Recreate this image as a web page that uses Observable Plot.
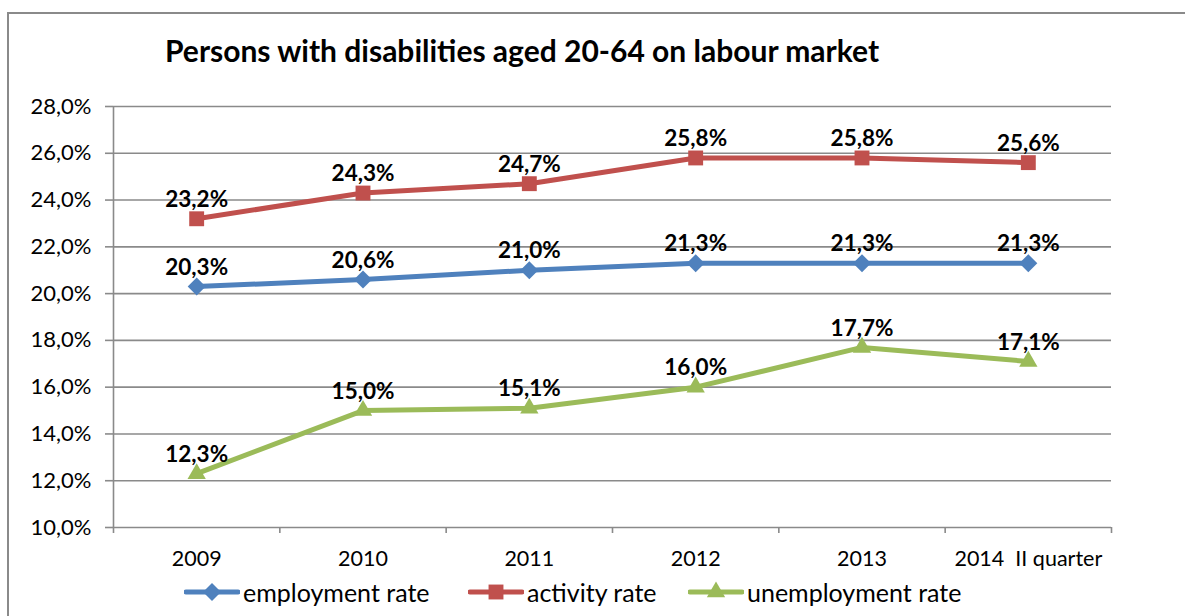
<!DOCTYPE html>
<html>
<head>
<meta charset="utf-8">
<script src="https://cdn.jsdelivr.net/npm/d3@7"></script>
<script src="https://cdn.jsdelivr.net/npm/@observablehq/plot@0.6"></script>
<style>
  html, body { margin: 0; padding: 0; background: #fff; overflow: hidden; width: 1185px; height: 616px; }
  body { position: relative; font-family: Lato, "Open Sans", sans-serif; color: #000; }
  #frame { position: absolute; left: 7px; top: 12px; width: 1300px; height: 800px; border-left: 2px solid #8a8a8a; border-top: 2px solid #8a8a8a; }
  #title { position: absolute; left: 165px; top: 30px; font-size: 30px; font-weight: bold; white-space: nowrap; line-height: 40px; }
  #chart { position: absolute; left: 0; top: 80px; }
  #legend { position: absolute; left: 0; top: 574px; width: 1185px; height: 36px; }
  .item { position: absolute; top: 0; display: flex; align-items: center; height: 36px; font-size: 25px; white-space: nowrap; }
  .item svg { margin-right: 3px; }
  #chart text { white-space: pre; }
</style>
</head>
<body>
<div id="frame"></div>
<div id="title">Persons with disabilities aged 20-64 on labour market</div>
<div id="chart"></div>
<div id="legend"></div>
<script>
const categories = ["2009", "2010", "2011", "2012", "2013", "2014  II quarter"];
const employmentRate = [20.3, 20.6, 21.0, 21.3, 21.3, 21.3];
const activityRate = [23.2, 24.3, 24.7, 25.8, 25.8, 25.6];
const unemploymentRate = [12.3, 15.0, 15.1, 16.0, 17.7, 17.1];
const seriesNames = ["employment rate", "activity rate", "unemployment rate"];
const seriesColors = ["#4F81BD", "#C0504D", "#9BBB59"];
const seriesSymbols = ["diamond2", "square", "triangle"];
const yTicks = [10, 12, 14, 16, 18, 20, 22, 24, 26, 28];

const fmt = v => v.toFixed(1).replace(".", ",") + "%";
const allSeries = [employmentRate, activityRate, unemploymentRate];
const rows = allSeries.map((vals, s) => vals.map((v, i) => ({series: seriesNames[s], i: i + 0.5, v})));
const boundaries = d3.range(categories.length + 1);
const centers = categories.map((c, i) => i + 0.5);
const symbolR = {diamond2: 8.1, square: 8.4, triangle: 6.8};

const gray = "#8a8a8a";
const marks = [
  Plot.gridY(yTicks, {stroke: gray, strokeOpacity: 1, strokeWidth: 1.6}),
  Plot.ruleX([0], {y1: 10, y2: 28, stroke: gray, strokeWidth: 1.6}),
  Plot.axisY(yTicks, {tickSize: 8, tickPadding: 14, stroke: gray, strokeWidth: 1.6, tickFormat: d => d.toFixed(1).replace(".", ",") + "%", fontSize: 22, fill: "#000", label: null}),
  Plot.axisX(boundaries, {tickSize: 6, stroke: gray, strokeWidth: 1.6, tickFormat: () => "", label: null}),
  Plot.axisX(centers, {tickSize: 0, tickPadding: 23, tickFormat: d => categories[Math.floor(d)], fontSize: 21.5, fill: "#000", label: null}),
];
rows.forEach((data, s) => {
  marks.push(Plot.line(data, {x: "i", y: "v", stroke: seriesColors[s], strokeWidth: 5}));
});
rows.forEach((data, s) => {
  const sym = seriesSymbols[s];
  marks.push(Plot.dot(data, {x: "i", y: "v", symbol: () => sym, fill: seriesColors[s], r: symbolR[sym], stroke: "none"}));
});
rows.forEach((data, s) => {
  marks.push(Plot.text(data, {x: "i", y: "v", text: d => fmt(d.v), dy: -19, fontSize: 22.5, fontWeight: "bold", fill: "#000", lineAnchor: "middle"}));
});

const chart = Plot.plot({
  width: 1185,
  height: 490,
  marginLeft: 113,
  marginRight: 74,
  marginTop: 26,
  marginBottom: 43,
  style: {fontFamily: "Lato, 'Open Sans', sans-serif", background: "transparent", overflow: "visible"},
  x: {type: "linear", domain: [0, categories.length], axis: null},
  y: {type: "linear", domain: [10, 28], axis: null},
  symbol: {type: "identity"},
  marks
});
document.getElementById("chart").appendChild(chart);

// legend
const legend = document.getElementById("legend");
const legendX = [184, 468, 688];
seriesNames.forEach((name, s) => {
  const item = document.createElement("div");
  item.className = "item";
  item.style.left = legendX[s] + "px";
  const sw = d3.create("svg").attr("width", 56).attr("height", 24);
  sw.append("line").attr("x1", 2).attr("x2", 54).attr("y1", 12).attr("y2", 12)
    .attr("stroke", seriesColors[s]).attr("stroke-width", 5).attr("stroke-linecap", "round");
  const symMap = {diamond2: d3.symbolDiamond2, square: d3.symbolSquare, triangle: d3.symbolTriangle};
  const sym = seriesSymbols[s];
  const size = Math.PI * symbolR[sym] * symbolR[sym];
  sw.append("path").attr("transform", "translate(28,12)").attr("d", d3.symbol(symMap[sym], size)()).attr("fill", seriesColors[s]);
  item.appendChild(sw.node());
  const t = document.createElement("span");
  t.textContent = name;
  item.appendChild(t);
  legend.appendChild(item);
});
</script>
</body>
</html>
